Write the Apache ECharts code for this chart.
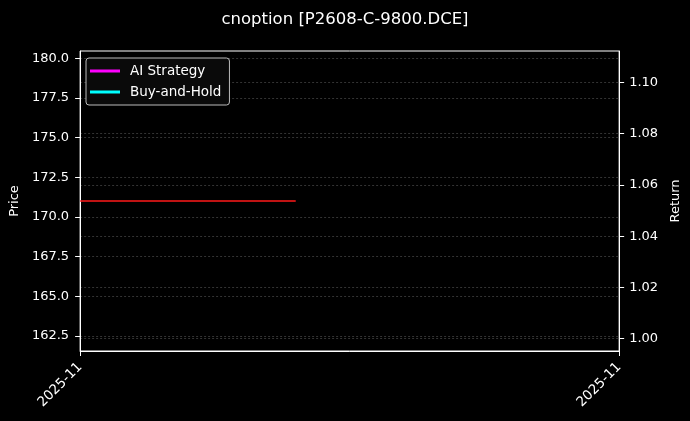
<!DOCTYPE html>
<html>
<head>
<meta charset="utf-8">
<script src="https://cdn.jsdelivr.net/npm/echarts@6/dist/echarts.min.js"></script>
<style>
  html, body { margin: 0; padding: 0; background: #000; }
  #main { width: 690px; height: 421px; }
</style>
</head>
<body>
<div id="main"></div>
<script>
var chartDom = document.getElementById('main');
var myChart = echarts.init(chartDom);
var option;

// x categories (trading days)
const dates = ['2025-11-24', '2025-11-25', '2025-11-26', '2025-11-27', '2025-11-28', '2025-11-30'];
// option price, only the first days have a value
const price = [171, 171, 171, null, null, null];
// returns: nothing drawn in the picture
const aiStrategy = [null, null, null, null, null, null];
const buyHold = [null, null, null, null, null, null];
// tick labels
const priceTicks = [162.5, 165, 167.5, 170, 172.5, 175, 177.5, 180];
const returnTicks = [1.0, 1.02, 1.04, 1.06, 1.08, 1.1];

const font = 'DejaVu Sans';
const gridLine = { show: true, lineStyle: { color: '#333', type: [2, 2], width: 1 } };

option = {
  backgroundColor: '#000',
  animation: false,
  textStyle: { fontFamily: font },
  title: {
    text: 'cnoption [P2608-C-9800.DCE]',
    left: 'center',
    top: 6,
    textStyle: { color: '#fff', fontSize: 16.5, fontWeight: 'normal', fontFamily: font }
  },
  legend: {
    orient: 'vertical',
    left: 86,
    top: 58,
    padding: [6, 8, 6, 4],
    itemGap: 7,
    itemWidth: 30,
    itemHeight: 3,
    icon: 'rect',
    backgroundColor: '#0a0a0a',
    borderColor: '#bbb',
    borderWidth: 1,
    borderRadius: 3,
    textStyle: { color: '#fff', fontSize: 13.5, fontFamily: font, padding: [0, 0, 0, 5] },
    data: ['AI Strategy', 'Buy-and-Hold']
  },
  grid: {
    left: 80,
    right: 70,
    top: 51,
    bottom: 70,
    show: true,
    borderColor: '#fff',
    borderWidth: 1,
    backgroundColor: '#000'
  },
  xAxis: {
    type: 'category',
    boundaryGap: false,
    data: dates,
    axisLine: { lineStyle: { color: '#fff' } },
    axisTick: {
      length: 5,
      lineStyle: { color: '#fff' },
      interval: function (i) { return i === 0 || i === dates.length - 1; }
    },
    axisLabel: {
      color: '#fff',
      fontSize: 13.5,
      rotate: 45,
      margin: 14,
      interval: function (i) { return i === 0 || i === dates.length - 1; },
      formatter: function (v) { return v.slice(0, 7); }
    },
    splitLine: { show: false }
  },
  yAxis: [
    {
      type: 'value',
      name: 'Price',
      nameLocation: 'middle',
      nameGap: 51,
      nameRotate: 90,
      nameTextStyle: { color: '#fff', fontSize: 13 },
      min: 161.55,
      max: 180.45,
      axisLine: { show: true, lineStyle: { color: '#fff' } },
      axisTick: { show: true, length: 5, lineStyle: { color: '#fff' }, customValues: priceTicks },
      axisLabel: {
        color: '#fff',
        fontSize: 13,
        margin: 11,
        customValues: priceTicks,
        formatter: function (v) { return v.toFixed(1); }
      },
      splitLine: gridLine
    },
    {
      type: 'value',
      name: 'Return',
      position: 'right',
      nameLocation: 'middle',
      nameGap: 46,
      nameRotate: 90,
      nameTextStyle: { color: '#fff', fontSize: 13 },
      min: 0.9952,
      max: 1.1123,
      axisLine: { show: true, lineStyle: { color: '#fff' } },
      axisTick: { show: true, length: 5, lineStyle: { color: '#fff' }, customValues: returnTicks },
      axisLabel: {
        color: '#fff',
        fontSize: 13,
        margin: 10,
        customValues: returnTicks,
        formatter: function (v) { return v.toFixed(2); }
      },
      splitLine: gridLine
    }
  ],
  series: [
    {
      name: 'Price',
      type: 'line',
      yAxisIndex: 0,
      data: price,
      showSymbol: false,
      lineStyle: { color: '#ff1a1a', width: 1.5 },
      itemStyle: { color: '#ff1a1a' }
    },
    {
      name: 'AI Strategy',
      type: 'line',
      yAxisIndex: 1,
      data: aiStrategy,
      showSymbol: false,
      lineStyle: { color: '#ff00ff', width: 2 },
      itemStyle: { color: '#ff00ff' }
    },
    {
      name: 'Buy-and-Hold',
      type: 'line',
      yAxisIndex: 1,
      data: buyHold,
      showSymbol: false,
      lineStyle: { color: '#00ffff', width: 2 },
      itemStyle: { color: '#00ffff' }
    }
  ]
};

option && myChart.setOption(option);
</script>
</body>
</html>
